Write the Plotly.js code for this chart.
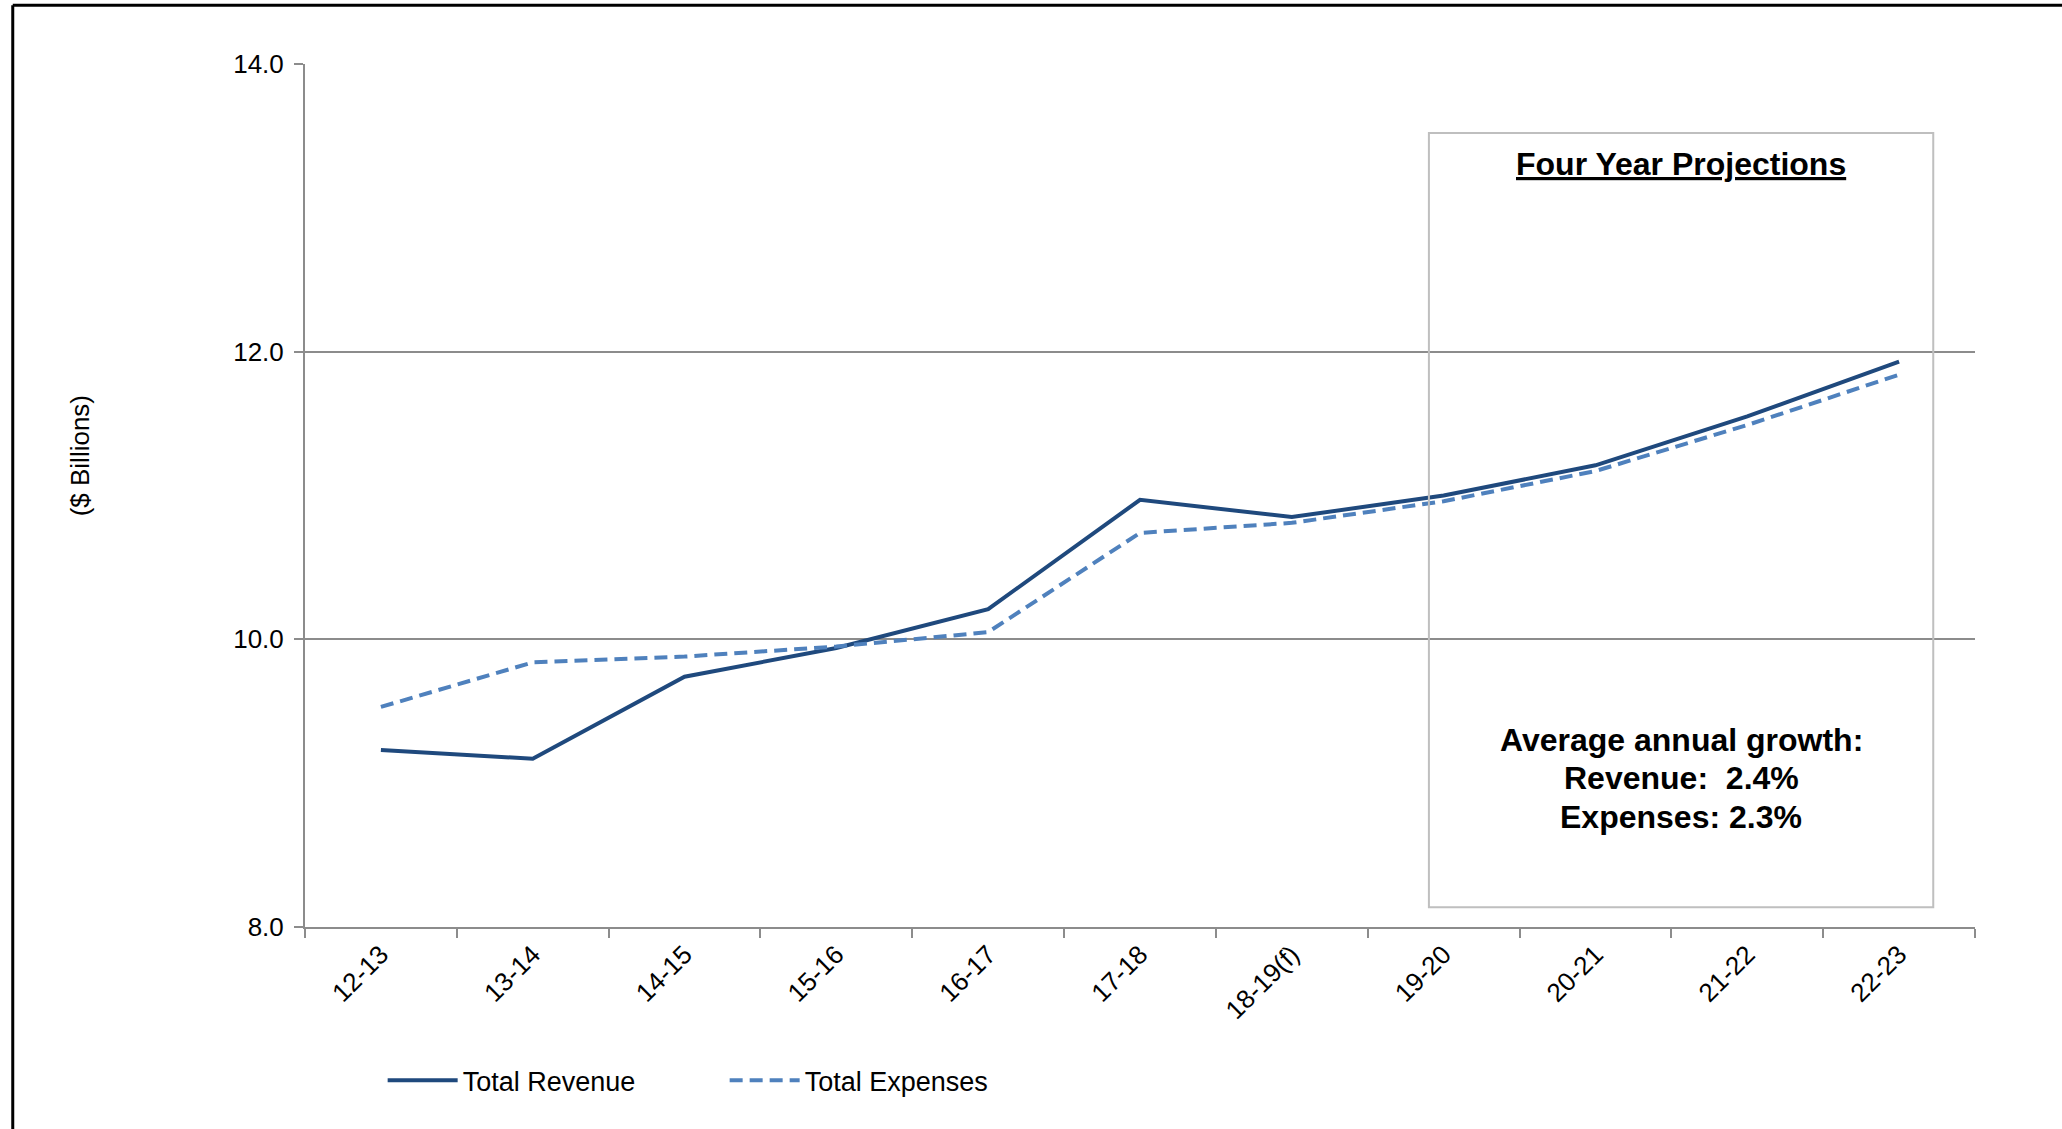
<!DOCTYPE html>
<html>
<head>
<meta charset="utf-8">
<script src="https://cdn.plot.ly/plotly-3.0.1.min.js"></script>
<style>html,body{margin:0;padding:0;background:#fff;}#chart{width:2062px;height:1129px;}</style>
</head>
<body>
<div id="chart"></div>
<script>
// Data
const years = ["12-13","13-14","14-15","15-16","16-17","17-18","18-19(f)","19-20","20-21","21-22","22-23"];
const totalRevenue = [9.23, 9.17, 9.74, 9.94, 10.21, 10.97, 10.85, 11.00, 11.21, 11.55, 11.93];
const totalExpenses = [9.53, 9.84, 9.88, 9.95, 10.05, 10.74, 10.81, 10.96, 11.17, 11.49, 11.84];
const yTicks = [8, 10, 12, 14];
const boxTitle = "Four Year Projections";
const growthLines = ["Average annual growth:", "Revenue:  2.4%", "Expenses: 2.3%"];
const yTitle = "($ Billions)";

const FONT = "Liberation Sans, Arial, sans-serif";
const GRID = "#8c8c8c";

const traces = [
  {
    x: years, y: totalRevenue, type: "scatter", mode: "lines", name: "Total Revenue",
    line: {color: "#1F497D", width: 4}
  },
  {
    x: years, y: totalExpenses, type: "scatter", mode: "lines", name: "Total Expenses",
    line: {color: "#4F81BD", width: 4, dash: "13px,7px"}
  }
];

const growthY = [0.2163, 0.1721, 0.1279];
const annotations = [
  {xref: "paper", yref: "paper", x: 0.824, y: 0.884, text: "<b><u>" + boxTitle + "</u></b>",
   showarrow: false, xanchor: "center", yanchor: "middle", font: {family: FONT, size: 32, color: "#000"}},
  {xref: "paper", yref: "paper", x: -0.135, y: 0.546, text: yTitle, textangle: -90,
   showarrow: false, xanchor: "center", yanchor: "middle", font: {family: FONT, size: 26, color: "#000"}}
];
growthLines.forEach((t, i) => annotations.push({
  xref: "paper", yref: "paper", x: 0.824, y: growthY[i], text: "<b>" + t + "</b>",
  showarrow: false, xanchor: "center", yanchor: "middle", font: {family: FONT, size: 32, color: "#000"}
}));

const layout = {
  width: 2062, height: 1129,
  margin: {l: 305, r: 87, t: 64, b: 202},
  paper_bgcolor: "#fff", plot_bgcolor: "#fff",
  font: {family: FONT, size: 26, color: "#000"},
  showlegend: true,
  legend: {orientation: "h", x: 0.0465, xanchor: "left", y: -0.178, yanchor: "middle",
           font: {family: FONT, size: 27, color: "#000"}, entrywidth: 257, entrywidthmode: "pixels",
           itemwidth: 70},
  xaxis: {
    type: "category", range: [-0.5, 10.5], tickangle: -45,
    showline: true, linecolor: GRID, linewidth: 2,
    ticks: "outside", ticklen: 9, tickcolor: GRID, tickwidth: 2, tickson: "boundaries",
    showgrid: false, tickfont: {family: FONT, size: 26, color: "#000"}, fixedrange: true
  },
  yaxis: {
    range: [8, 14], tickvals: yTicks, tickformat: ".1f",
    showline: true, linecolor: GRID, linewidth: 2,
    ticks: "outside", ticklen: 9, tickcolor: GRID, tickwidth: 2, ticklabelstandoff: 5,
    showgrid: true, gridcolor: GRID, gridwidth: 2, zeroline: false,
    tickfont: {family: FONT, size: 26, color: "#000"}, fixedrange: true
  },
  shapes: [
    {type: "rect", xref: "paper", yref: "paper", x0: 0.673, x1: 0.975, y0: 0.023, y1: 0.920,
     line: {color: "#bfbfbf", width: 2}, fillcolor: "rgba(0,0,0,0)", layer: "above"},
    {type: "line", xref: "paper", yref: "paper", x0: -0.175, x1: -0.175, y0: 1.068, y1: -0.4,
     line: {color: "#000", width: 3}},
    {type: "line", xref: "paper", yref: "paper", x0: -0.175, x1: 1.2, y0: 1.068, y1: 1.068,
     line: {color: "#000", width: 3}}
  ],
  annotations: annotations
};

Plotly.newPlot("chart", traces, layout, {displayModeBar: false, staticPlot: true});
</script>
</body>
</html>
